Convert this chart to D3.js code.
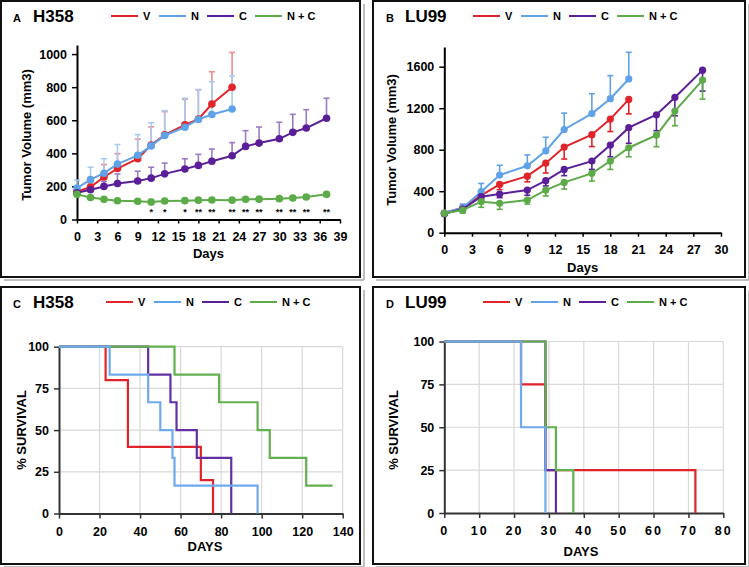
<!DOCTYPE html>
<html><head><meta charset="utf-8">
<script src="https://cdn.jsdelivr.net/npm/d3@7"></script>
<style>body{margin:0;background:#fff} text{font-family:"Liberation Sans",Arial,sans-serif;font-weight:bold;fill:#000}</style>
</head><body><svg id="c" width="749" height="567"></svg>
<script>
// ---------- DATA ----------
const groups = ["V", "N", "C", "N + C"];
// Panel A  (H358 tumor volume)
const daysA_VN = [0, 2, 4, 6, 9, 11, 13, 16, 18, 20, 23];
const daysA_C = [0, 2, 4, 6, 9, 11, 13, 16, 18, 20, 23, 25, 27, 30, 32, 34, 37];
const volA_V = [169, 196, 257, 308, 368, 450, 512, 572, 607, 698, 800];
const errA_V = [20, 25, 75, 90, 118, 110, 140, 155, 178, 195, 210];
const volA_N = [190, 241, 280, 335, 388, 445, 508, 558, 605, 635, 668];
const errA_N = [48, 75, 88, 118, 125, 140, 150, 175, 180, 198, 200];
const volA_C = [162, 180, 200, 218, 233, 250, 276, 305, 327, 352, 385, 442, 462, 488, 527, 553, 612];
const errA_C = [20, 25, 30, 57, 59, 66, 65, 62, 67, 74, 80, 95, 97, 100, 109, 111, 121];
const volA_NC = [152, 133, 122, 113, 110, 106, 112, 114, 117, 118, 117, 122, 123, 126, 130, 136, 152];
const errA_NC = [14, 12, 14, 12, 12, 16, 14, 12, 12, 12, 12, 12, 12, 12, 12, 12, 14];
const starsA_days = [11, 13, 16, 18, 20, 23, 25, 27, 30, 32, 34, 37];
const starsA_text = ["*", "*", "*", "**", "**", "**", "**", "**", "**", "**", "**", "**"];
const ticksA_x = [0, 3, 6, 9, 12, 15, 18, 21, 24, 27, 30, 33, 36, 39];
const ticksA_y = [0, 200, 400, 600, 800, 1000];
// Panel B  (LU99 tumor volume)
const daysB_VN = [0, 2, 4, 6, 9, 11, 13, 16, 18, 20];
const daysB_C = [0, 2, 4, 6, 9, 11, 13, 16, 18, 20, 23, 25, 28];
const volB_V = [190, 240, 360, 465, 545, 670, 825, 945, 1095, 1285];
const errB_V = [15, 30, 40, 50, 55, 95, 115, 115, 120, 140];
const volB_N = [190, 240, 395, 555, 645, 788, 995, 1148, 1292, 1482];
const errB_N = [20, 35, 80, 95, 105, 132, 158, 192, 222, 257];
const volB_C = [182, 228, 347, 373, 411, 501, 610, 690, 845, 1012, 1137, 1304, 1567];
const errB_C = [15, 30, 30, 35, 50, 50, 60, 80, 113, 150, 154, 177, 202];
const volB_NC = [187, 219, 299, 283, 315, 411, 485, 572, 691, 819, 941, 1172, 1471];
const errB_NC = [20, 30, 54, 58, 39, 57, 64, 74, 81, 87, 112, 141, 183];
const ticksB_x = [0, 3, 6, 9, 12, 15, 18, 21, 24, 27, 30];
const ticksB_y = [0, 400, 800, 1200, 1600];
// Panel C  (H358 survival)
const kmC_V_t = [0, 23, 34, 70, 76],            kmC_V_s = [100, 80, 40, 20, 0];
const kmC_N_t = [0, 25, 44, 50, 56, 57, 98],    kmC_N_s = [100, 83.3, 66.7, 50, 33.3, 16.7, 0];
const kmC_C_t = [0, 44, 55, 58, 68, 85],        kmC_C_s = [100, 83.3, 66.7, 50, 33.3, 0];
const kmC_NC_t = [0, 57, 79, 98, 104, 122, 135], kmC_NC_s = [100, 83.3, 66.7, 50, 33.3, 16.7, 16.7];
const ticksC_x = [0, 20, 40, 60, 80, 100, 120, 140];
// Panel D  (LU99 survival)
const kmD_V_t = [0, 22, 29, 72],     kmD_V_s = [100, 75, 25, 0];
const kmD_N_t = [0, 22, 29],         kmD_N_s = [100, 50, 0];
const kmD_C_t = [0, 29, 32],         kmD_C_s = [100, 25, 0];
const kmD_NC_t = [0, 29, 32, 37],    kmD_NC_s = [100, 50, 25, 0];
const ticksD_x = [0, 10, 20, 30, 40, 50, 60, 70, 80];
const ticksKM_y = [0, 25, 50, 75, 100];

// ---------- STYLE ----------
const colLine = {V: "#e0242a", N: "#60a2e8", C: "#5a1f98", NC: "#5cab48"};
const colErr = {V: "#ec8c8e", N: "#a8cbf2", C: "#9a7cc4", NC: "#a2d196"};
const colKM = {V: "#e0242a", N: "#6eaaec", C: "#6230a2", NC: "#62b04e"};
const fmt = d3.format("d");

const svg = d3.select("#c");
svg.append("rect").attr("width", 749).attr("height", 567).attr("fill", "#fff");

function panelFrame(x0, y0, x1, y1) {
  svg.append("line").attr("x1", x1 + 4).attr("x2", x1 + 4).attr("y1", y0 + 3).attr("y2", y1 + 3).attr("stroke", "#aaa").attr("stroke-width", 1.5);
  svg.append("line").attr("x1", x0 + 3).attr("x2", x1 + 4).attr("y1", y1 + 3).attr("y2", y1 + 3).attr("stroke", "#aaa").attr("stroke-width", 1.5);
  svg.append("rect").attr("x", x0).attr("y", y0).attr("width", x1 - x0).attr("height", y1 - y0)
    .attr("fill", "none").attr("stroke", "#111").attr("stroke-width", 2);
}
panelFrame(1, 1, 360, 277);
panelFrame(373, 1, 745, 277);
panelFrame(1, 287, 360, 564);
panelFrame(373, 287, 745, 564);

function header(letter, lx, name, nx, y, legX) {
  svg.append("text").attr("x", lx).attr("y", y + 1).attr("font-size", 11).text(letter);
  svg.append("text").attr("x", nx).attr("y", y + 1).attr("font-size", 17).text(name);
  const keys = ["V", "N", "C", "NC"];
  keys.forEach((k, i) => {
    const x = legX + i * 48;
    svg.append("line").attr("x1", x).attr("x2", x + 27).attr("y1", y - 5).attr("y2", y - 5)
      .attr("stroke", colLine[k]).attr("stroke-width", 2);
    svg.append("text").attr("x", x + 32).attr("y", y - 1).attr("font-size", 11).text(groups[i]);
  });
}

function styleAxis(a, col) {
  a.select(".domain").attr("stroke", col).attr("stroke-width", 2);
  a.selectAll(".tick line").attr("stroke", col).attr("stroke-width", 1.5);
  a.selectAll("text").attr("font-size", 12.5).attr("font-family", "Liberation Sans, Arial").attr("font-weight", "bold").attr("fill", "#000");
}

function growthPanel(o) {
  const g = svg.append("g");
  const x = d3.scaleLinear().domain([0, o.xmax]).range([o.x0, o.x1]);
  const y = d3.scaleLinear().domain([0, o.ymax]).range([o.yb, o.yt]);
  const xa = g.append("g").attr("transform", `translate(0,${o.yb})`)
    .call(d3.axisBottom(x).tickValues(o.xt).tickFormat(fmt).tickSize(4).tickSizeOuter(0));
  const ya = g.append("g").attr("transform", `translate(${o.x0},0)`)
    .call(d3.axisLeft(y).tickValues(o.yt_).tickFormat(fmt).tickSize(5).tickSizeOuter(0));
  styleAxis(xa, "#000"); styleAxis(ya, "#000");
  xa.selectAll("text").attr("dy", "1.15em");
  ya.selectAll("text").attr("dx", "-2");
  o.series.forEach(s => {
    const pts = s.t.map((d, i) => ({t: d, v: s.v[i], e: s.e[i]}));
    pts.forEach(p => {
      const dirs = s.dir === "both" ? [1, -1] : [s.dir === "up" ? 1 : -1];
      dirs.forEach(dd => {
        const ye = y(p.v + dd * p.e);
        g.append("line").attr("x1", x(p.t)).attr("x2", x(p.t)).attr("y1", y(p.v)).attr("y2", ye)
          .attr("stroke", s.ec).attr("stroke-width", 1.6);
        g.append("line").attr("x1", x(p.t) - 3).attr("x2", x(p.t) + 3).attr("y1", ye).attr("y2", ye)
          .attr("stroke", s.ec).attr("stroke-width", 1.6);
      });
    });
  });
  o.series.forEach(s => {
    const pts = s.t.map((d, i) => [d, s.v[i]]);
    g.append("path").datum(pts).attr("fill", "none").attr("stroke", s.c).attr("stroke-width", 2)
      .attr("d", d3.line().x(d => x(d[0])).y(d => y(d[1])));
    g.selectAll(null).data(pts).join("circle").attr("cx", d => x(d[0])).attr("cy", d => y(d[1]))
      .attr("r", o.r).attr("fill", s.c);
  });
  g.append("text").attr("x", (o.x0 + o.x1) / 2).attr("y", o.xtitleY).attr("text-anchor", "middle").attr("font-size", 13).text("Days");
  g.append("text").attr("transform", `translate(${o.ytitleX},${o.ytitleYc}) rotate(-90)`).attr("text-anchor", "middle")
    .attr("font-size", 13).text("Tumor Volume (mm3)");
  return {x, y, g};
}

// Panel A
header("A", 13, "H358", 33, 21, 111);
const pA = growthPanel({
  x0: 77, x1: 340, yb: 219.5, yt: 45, xmax: 39, ymax: 1055, xt: ticksA_x, yt_: ticksA_y, r: 3.8,
  xtitleY: 258, ytitleX: 31, ytitleYc: 135,
  series: [
    {t: daysA_VN, v: volA_V, e: errA_V, c: colLine.V, ec: colErr.V, dir: "up"},
    {t: daysA_VN, v: volA_N, e: errA_N, c: colLine.N, ec: colErr.N, dir: "up"},
    {t: daysA_C, v: volA_C, e: errA_C, c: colLine.C, ec: colErr.C, dir: "up"},
    {t: daysA_C, v: volA_NC, e: errA_NC, c: colLine.NC, ec: colErr.NC, dir: "both"}
  ]
});
starsA_days.forEach((d, i) => {
  pA.g.append("text").attr("x", pA.x(d)).attr("y", pA.y(0) - 5).attr("text-anchor", "middle")
    .attr("font-size", 9).attr("font-weight", "normal").text(starsA_text[i]);
});

// Panel B
header("B", 386, "LU99", 405, 21, 473);
growthPanel({
  x0: 444.3, x1: 721, yb: 232.7, yt: 47, xmax: 30, ymax: 1790, xt: ticksB_x, yt_: ticksB_y, r: 3.6,
  xtitleY: 272, ytitleX: 396, ytitleYc: 140,
  series: [
    {t: daysB_VN, v: volB_V, e: errB_V, c: colLine.V, ec: colLine.V, dir: "down"},
    {t: daysB_VN, v: volB_N, e: errB_N, c: colLine.N, ec: colLine.N, dir: "up"},
    {t: daysB_C, v: volB_C, e: errB_C, c: colLine.C, ec: colLine.C, dir: "down"},
    {t: daysB_C, v: volB_NC, e: errB_NC, c: colLine.NC, ec: colLine.NC, dir: "down"}
  ]
});

function kmPanel(o) {
  const g = svg.append("g");
  const x = d3.scaleLinear().domain([0, o.xmax]).range([o.x0, o.x1]);
  const y = d3.scaleLinear().domain([0, 100]).range([o.yb, o.yt]);
  g.selectAll(null).data(o.xt.slice(1)).join("line").attr("x1", d => x(d)).attr("x2", d => x(d))
    .attr("y1", o.yb).attr("y2", o.yt).attr("stroke", "#d9d9d9").attr("stroke-width", 1.2);
  g.selectAll(null).data(ticksKM_y.slice(1)).join("line").attr("x1", o.x0).attr("x2", o.x1)
    .attr("y1", d => y(d)).attr("y2", d => y(d)).attr("stroke", "#d9d9d9").attr("stroke-width", 1.2);
  const xa = g.append("g").attr("transform", `translate(0,${o.yb})`)
    .call(d3.axisBottom(x).tickValues(o.xt).tickFormat(fmt).tickSize(5).tickSizeOuter(0));
  const ya = g.append("g").attr("transform", `translate(${o.x0},0)`)
    .call(d3.axisLeft(y).tickValues(ticksKM_y).tickFormat(fmt).tickSize(5).tickSizeOuter(0));
  styleAxis(xa, "#333"); styleAxis(ya, "#333");
  xa.selectAll("text").attr("dy", "1.15em").attr("letter-spacing", o.ls || 0);
  ya.selectAll("text").attr("dx", "-2");
  const line = d3.line().x(d => x(d[0])).y(d => y(d[1])).curve(d3.curveStepAfter);
  o.curves.forEach(c => {
    const pts = c.t.map((t, i) => [t, c.s[i]]);
    g.append("path").datum(pts).attr("fill", "none").attr("stroke", c.c).attr("stroke-width", 2.2).attr("d", line);
  });
  g.append("text").attr("x", o.xtc).attr("y", o.xtitleY).attr("text-anchor", "middle").attr("font-size", 13).text("DAYS");
  g.append("text").attr("transform", `translate(${o.ytitleX},${o.ytitleYc}) rotate(-90)`).attr("text-anchor", "middle")
    .attr("font-size", 13).text("% SURVIVAL");
}

header("C", 13, "H358", 33, 307, 106);
kmPanel({
  x0: 59, x1: 342.7, yb: 513.5, yt: 346.7, xmax: 140, xt: ticksC_x,
  xtitleY: 551, xtc: 205, ytitleX: 26, ytitleYc: 430,
  curves: [
    {t: kmC_V_t, s: kmC_V_s, c: colKM.V},
    {t: kmC_C_t, s: kmC_C_s, c: colKM.C},
    {t: kmC_NC_t, s: kmC_NC_s, c: colKM.NC},
    {t: kmC_N_t, s: kmC_N_s, c: colKM.N}
  ]
});

header("D", 386, "LU99", 405, 307, 483);
kmPanel({
  x0: 444.3, x1: 723.3, yb: 513, yt: 341.5, xmax: 80, xt: ticksD_x, ls: 2,
  xtitleY: 556, xtc: 581, ytitleX: 398, ytitleYc: 430,
  curves: [
    {t: kmD_V_t, s: kmD_V_s, c: colKM.V},
    {t: kmD_C_t, s: kmD_C_s, c: colKM.C},
    {t: kmD_NC_t, s: kmD_NC_s, c: colKM.NC},
    {t: kmD_N_t, s: kmD_N_s, c: colKM.N}
  ]
});
</script></body></html>
